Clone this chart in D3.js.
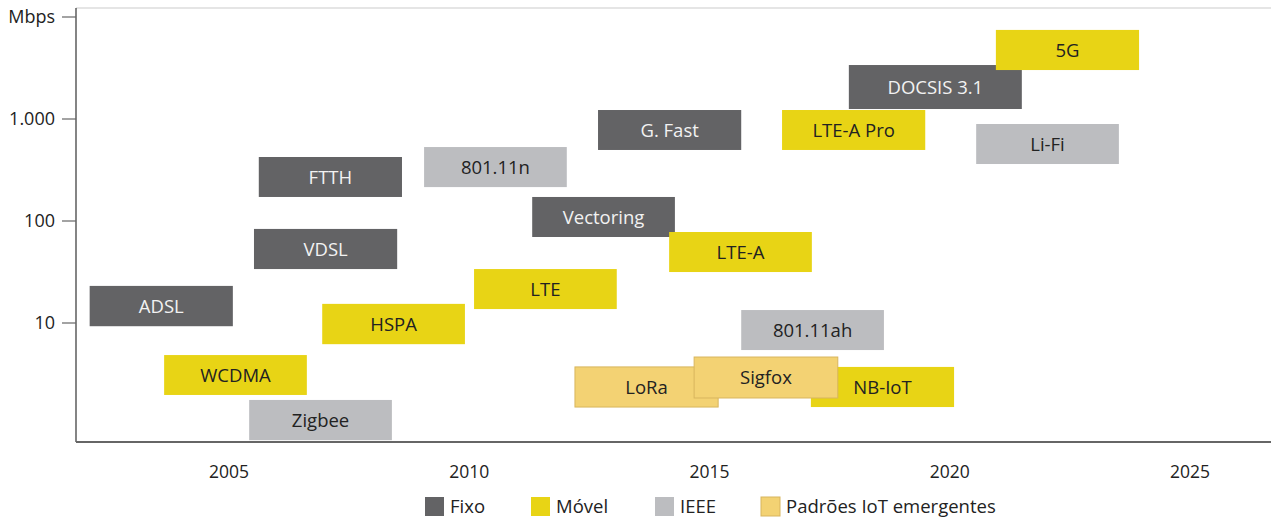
<!DOCTYPE html>
<html>
<head>
<meta charset="utf-8">
<script src="https://cdn.jsdelivr.net/npm/d3@7"></script>
<style>
  body { margin: 0; background: #fff; }
  svg { display: block; font-family: 'Open Sans', sans-serif; }
</style>
</head>
<body>
<div id="chart"></div>
<script>
// Technologies: label, group, start/end year, low/high speed (Mbps)
const labels = ['ADSL', 'WCDMA', 'Zigbee', 'FTTH', 'VDSL', 'HSPA', '801.11n', 'LTE',
  'Vectoring', 'G. Fast', 'LoRa', '801.11ah', 'NB-IoT', 'Sigfox', 'LTE-A',
  'DOCSIS 3.1', '5G', 'LTE-A Pro', 'Li-Fi'];
const groups = ['Fixo', 'Móvel', 'IEEE', 'Fixo', 'Fixo', 'Móvel', 'IEEE', 'Móvel',
  'Fixo', 'Fixo', 'IoT', 'IEEE', 'Móvel', 'IoT', 'Móvel',
  'Fixo', 'Móvel', 'Móvel', 'IEEE'];
const starts = [2002.1, 2003.65, 2005.42, 2005.62, 2005.52, 2006.94, 2009.06, 2010.1,
  2011.31, 2012.68, 2012.2, 2015.66, 2017.11, 2014.68, 2014.16,
  2017.9, 2020.96, 2016.51, 2020.55];
const ends = [2005.08, 2006.62, 2008.39, 2008.6, 2008.5, 2009.91, 2012.03, 2013.07,
  2014.28, 2015.66, 2015.18, 2018.63, 2020.09, 2017.67, 2017.13,
  2021.5, 2023.94, 2019.49, 2023.52];
const lows = [9.3, 1.97, 0.71, 172, 33.8, 6.2, 215, 13.7,
  69.7, 497, 1.5, 5.43, 1.5, 1.84, 31.6,
  1253, 3020, 497, 362];
const highs = [23.1, 4.85, 1.76, 424, 83.6, 15.4, 531, 33.8,
  172, 1225, 3.71, 13.4, 3.71, 4.64, 78,
  3382, 7470, 1225, 893];

const yearTicks = [2005, 2010, 2015, 2020, 2025];
const speedTicks = [10, 100, 1000, 10000];
const speedTickLabels = ['10', '100', '1.000', 'Mbps'];

const legendKeys = ['Fixo', 'Móvel', 'IEEE', 'IoT'];
const legendLabels = ['Fixo', 'Móvel', 'IEEE', 'Padrões IoT emergentes'];

const W = 1271, H = 518;
const plotLeft = 76, plotRight = W, plotTop = 8, plotBottom = 442;

const color = d3.scaleOrdinal()
  .domain(legendKeys)
  .range(['#636365', '#e8d415', '#bcbdc0', '#f3d273']);
const textColor = { Fixo: '#f2f2f2', 'Móvel': '#222', IEEE: '#222', IoT: '#222' };

const x = d3.scaleLinear().domain([2005, 2025]).range([229, 1190]);
const y = d3.scaleLog().domain([10, 10000]).range([323, 17]);

const svg = d3.select('#chart').append('svg')
  .attr('width', W).attr('height', H);

// frame
svg.append('line')
  .attr('x1', plotLeft).attr('x2', plotRight)
  .attr('y1', plotTop).attr('y2', plotTop)
  .attr('stroke', '#dcdcdc').attr('stroke-width', 1.5);

// bars
const data = labels.map((d, i) => ({
  label: d, group: groups[i], x0: starts[i], x1: ends[i], lo: lows[i], hi: highs[i]
}));

const box = svg.append('g').selectAll('g').data(data).join('g');
box.append('rect')
  .attr('x', d => x(d.x0))
  .attr('y', d => y(d.hi))
  .attr('width', d => x(d.x1) - x(d.x0))
  .attr('height', d => y(d.lo) - y(d.hi))
  .attr('fill', d => color(d.group))
  .attr('stroke', d => d.group === 'IoT' ? '#d8b55e' : 'none')
  .attr('stroke-width', 1);
box.append('text')
  .attr('x', d => (x(d.x0) + x(d.x1)) / 2)
  .attr('y', d => (y(d.hi) + y(d.lo)) / 2)
  .attr('dy', '0.36em')
  .attr('text-anchor', 'middle')
  .attr('font-size', 18.5)
  .attr('fill', d => textColor[d.group])
  .text(d => d.label);

// y axis
const yAxis = svg.append('g');
yAxis.append('line')
  .attr('x1', plotLeft).attr('x2', plotLeft)
  .attr('y1', plotTop).attr('y2', plotBottom)
  .attr('stroke', '#333').attr('stroke-width', 1.2);
speedTicks.forEach((t, i) => {
  yAxis.append('line')
    .attr('x1', 62).attr('x2', plotLeft)
    .attr('y1', y(t)).attr('y2', y(t))
    .attr('stroke', '#666').attr('stroke-width', 1.2);
  yAxis.append('text')
    .attr('x', 55).attr('y', y(t)).attr('dy', '0.35em')
    .attr('text-anchor', 'end').attr('font-size', 18).attr('fill', '#222')
    .text(speedTickLabels[i]);
});

// x axis
svg.append('line')
  .attr('x1', plotLeft).attr('x2', plotRight)
  .attr('y1', plotBottom).attr('y2', plotBottom)
  .attr('stroke', '#666').attr('stroke-width', 2);
svg.append('g').selectAll('text').data(yearTicks).join('text')
  .attr('x', d => x(d)).attr('y', 478)
  .attr('text-anchor', 'middle').attr('font-size', 17.5).attr('fill', '#222')
  .text(d => d);

// legend
const legendX = [425, 531, 655, 761];
const legend = svg.append('g').selectAll('g').data(legendKeys).join('g')
  .attr('transform', (d, i) => `translate(${legendX[i]},497)`);
legend.append('rect')
  .attr('width', 19).attr('height', 19)
  .attr('fill', d => color(d))
  .attr('stroke', d => d === 'IoT' ? '#d8b55e' : 'none');
legend.append('text')
  .attr('x', 25).attr('y', 9.5).attr('dy', '0.36em')
  .attr('font-size', 18.5).attr('fill', '#222')
  .text((d, i) => legendLabels[i]);
</script>
</body>
</html>
